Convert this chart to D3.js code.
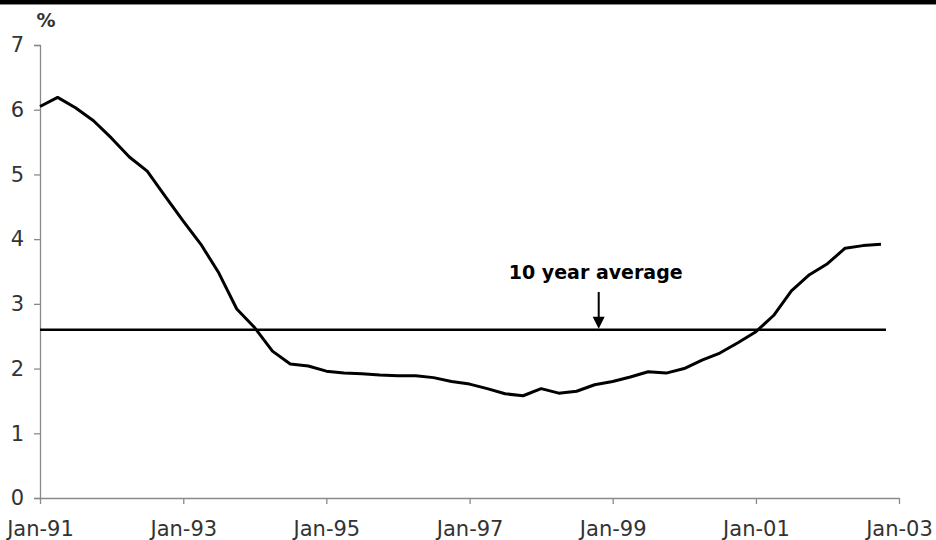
<!DOCTYPE html>
<html>
<head>
<meta charset="utf-8">
<script src="https://cdn.jsdelivr.net/npm/d3@7"></script>
<style>
  html, body { margin: 0; padding: 0; background: #fff; }
  svg { display: block; }
</style>
</head>
<body>
<svg id="chart" width="936" height="540"></svg>
<script>
// ---- Data (quarterly, %) ----
const dates = [
  "1991-01","1991-04","1991-07","1991-10","1992-01","1992-04","1992-07","1992-10",
  "1993-01","1993-04","1993-07","1993-10","1994-01","1994-04","1994-07","1994-10",
  "1995-01","1995-04","1995-07","1995-10","1996-01","1996-04","1996-07","1996-10",
  "1997-01","1997-04","1997-07","1997-10","1998-01","1998-04","1998-07","1998-10",
  "1999-01","1999-04","1999-07","1999-10","2000-01","2000-04","2000-07","2000-10",
  "2001-01","2001-04","2001-07","2001-10","2002-01","2002-04","2002-07","2002-10"
];
const values = [
  6.05, 6.19, 6.03, 5.83, 5.56, 5.27, 5.05, 4.66,
  4.28, 3.92, 3.48, 2.92, 2.63, 2.27, 2.07, 2.04,
  1.96, 1.93, 1.92, 1.90, 1.89, 1.89, 1.86, 1.80,
  1.76, 1.69, 1.61, 1.58, 1.69, 1.62, 1.65, 1.75,
  1.80, 1.87, 1.95, 1.93, 2.00, 2.13, 2.24, 2.40,
  2.57, 2.82, 3.20, 3.45, 3.62, 3.86, 3.90, 3.92
];
const averageValue = 2.6;
const averageLabel = "10 year average";
const averageLabelDate = "1998-11";
const xTickDates = ["1991-01","1993-01","1995-01","1997-01","1999-01","2001-01","2003-01"];
const yTicks = [0, 1, 2, 3, 4, 5, 6, 7];
const yUnitLabel = "%";

// ---- Setup ----
const parse = d3.timeParse("%Y-%m");
const fmt = d3.timeFormat("%b-%y");
const data = dates.map((d, i) => ({ date: parse(d), value: values[i] }));

const svg = d3.select("#chart");
const x = d3.scaleTime()
  .domain([parse("1991-01"), parse("2003-01")])
  .range([40, 899]);
const y = d3.scaleLinear()
  .domain([0, 7])
  .range([498, 45]);

// top black bar
svg.append("rect").attr("x", 0).attr("y", 0).attr("width", 936).attr("height", 4).attr("fill", "#000");
svg.append("rect").attr("x", 0).attr("y", 4).attr("width", 936).attr("height", 1).attr("fill", "#888");

const axisColor = "#8a8a8a";
const textColor = "#333";
const font = "DejaVu Sans, Verdana, sans-serif";

// Y axis
const yAxis = svg.append("g")
  .attr("transform", `translate(${x.range()[0]},0)`)
  .call(d3.axisLeft(y).tickValues(yTicks).tickFormat(d3.format("d")).tickSize(6).tickSizeOuter(6).tickPadding(10));
yAxis.selectAll("path, line").attr("stroke", axisColor).attr("stroke-width", 1.3);
yAxis.selectAll("text").attr("fill", textColor).style("font-family", font).style("font-size", "21px");

// X axis
const xAxis = svg.append("g")
  .attr("transform", `translate(0,${y(0)})`)
  .call(d3.axisBottom(x).tickValues(xTickDates.map(parse)).tickFormat(fmt).tickSize(6).tickSizeOuter(0).tickPadding(17));
xAxis.selectAll("path, line").attr("stroke", axisColor).attr("stroke-width", 1.3);
xAxis.selectAll("text").attr("fill", textColor).style("font-family", font).style("font-size", "21px");

// % label
svg.append("text")
  .attr("x", 46).attr("y", 27)
  .attr("text-anchor", "middle")
  .attr("fill", textColor)
  .style("font-family", font).style("font-size", "19px").style("font-weight", "bold")
  .text(yUnitLabel);

// Average line
svg.append("line")
  .attr("x1", x.range()[0]).attr("x2", x(data[data.length - 1].date) + 5)
  .attr("y1", y(averageValue)).attr("y2", y(averageValue))
  .attr("stroke", "#000").attr("stroke-width", 2.5);

// Series line
const line = d3.line().x(d => x(d.date)).y(d => y(d.value));
svg.append("path")
  .datum(data)
  .attr("d", line)
  .attr("fill", "none")
  .attr("stroke", "#000")
  .attr("stroke-width", 3)
  .attr("stroke-linejoin", "round");

// Annotation
const ax = x(parse(averageLabelDate)) - 2;
const ay = y(averageValue);
svg.append("text")
  .attr("x", ax - 3).attr("y", 279)
  .attr("text-anchor", "middle")
  .attr("fill", "#000")
  .style("font-family", font).style("font-size", "19px").style("font-weight", "bold")
  .text(averageLabel);
svg.append("line")
  .attr("x1", ax).attr("x2", ax)
  .attr("y1", 292).attr("y2", ay - 10)
  .attr("stroke", "#000").attr("stroke-width", 2);
svg.append("path")
  .attr("d", `M${ax - 6},${ay - 13}L${ax + 6},${ay - 13}L${ax},${ay - 1}Z`)
  .attr("fill", "#000");
</script>
</body>
</html>
